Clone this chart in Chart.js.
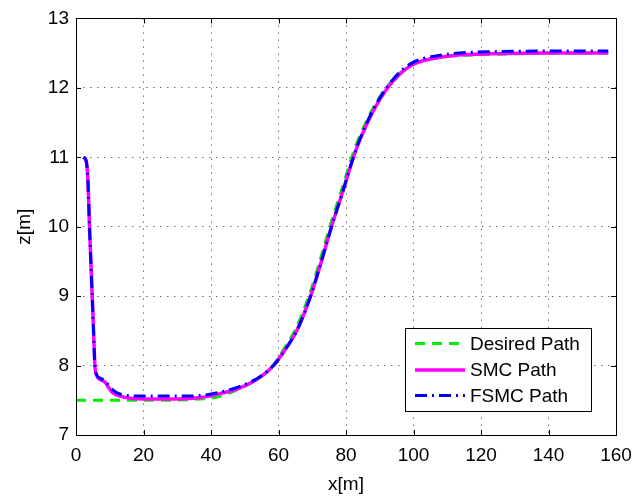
<!DOCTYPE html>
<html>
<head>
<meta charset="utf-8">
<script src="https://cdn.jsdelivr.net/npm/chart.js@4"></script>
<style>
  html, body { margin: 0; padding: 0; background: #fff; }
  #wrap { width: 644px; height: 498px; }
</style>
</head>
<body>
<div id="wrap"><canvas id="c" width="644" height="498"></canvas></div>
<script>
// values
const desiredX = [0, 20, 40, 48.6, 54.5, 58.3, 62, 65, 69, 72.2, 75.2, 78.5, 81.7, 83.6, 87.6, 91.6, 95.6, 100, 108, 116, 130, 157.7];
const desiredZ = [7.5, 7.5, 7.53, 7.67, 7.83, 8.0, 8.27, 8.52, 9.0, 9.5, 10.0, 10.5, 11.0, 11.25, 11.67, 11.98, 12.2, 12.34, 12.44, 12.47, 12.49, 12.5];

const smcX = [2.2, 3.0, 3.5, 4.0, 4.4, 4.8, 5.2, 5.6, 6.2, 7.1, 8.6, 10.6, 13, 20, 30, 37, 43, 48.6, 54.5, 58.5, 62.4, 65.4, 69.5, 72.7, 75.7, 79, 82.2, 84.1, 88.1, 92, 96, 100, 108, 116, 123, 140, 157.7];
const smcZ = [11.0, 10.95, 10.7, 10.0, 9.5, 9.0, 8.5, 8.0, 7.85, 7.8, 7.76, 7.62, 7.56, 7.52, 7.52, 7.54, 7.6, 7.68, 7.83, 8.0, 8.26, 8.5, 9.0, 9.5, 10.0, 10.5, 11.0, 11.25, 11.67, 11.98, 12.2, 12.34, 12.44, 12.48, 12.49, 12.5, 12.5];

const fsmcX = [2.2, 3.0, 3.5, 4.0, 4.4, 4.8, 5.2, 5.6, 6.2, 7.1, 8.6, 10.6, 13, 20, 30, 37, 43, 48.6, 54.5, 58.5, 62.4, 65.4, 69.5, 72.7, 75.7, 79, 82.2, 84.1, 88.1, 92, 96, 100, 108, 116, 123, 140, 157.7];
const fsmcZ = [11.0, 10.95, 10.7, 10.0, 9.5, 9.0, 8.5, 8.0, 7.86, 7.82, 7.78, 7.66, 7.59, 7.56, 7.56, 7.57, 7.62, 7.7, 7.84, 8.0, 8.26, 8.5, 9.0, 9.5, 10.0, 10.5, 11.0, 11.26, 11.69, 12.0, 12.23, 12.37, 12.47, 12.51, 12.52, 12.53, 12.53];

const seriesNames = ["Desired Path", "SMC Path", "FSMC Path"];
const xTicks = [0, 20, 40, 60, 80, 100, 120, 140, 160];
const zTicks = [7, 8, 9, 10, 11, 12, 13];

const FONT = "'Liberation Sans', Arial, Helvetica, sans-serif";
const pts = (xs, ys) => xs.map((x, i) => ({x: x, y: ys[i]}));

// box round the axes, inner ticks on all four sides
const axesBox = {
    id: "axesBox",
    afterDatasetsDraw(chart) {
        const {ctx, chartArea: a, scales} = chart;
        ctx.save();
        ctx.strokeStyle = "#000";
        ctx.lineWidth = 1;
        ctx.setLineDash([]);
        ctx.beginPath();
        xTicks.forEach((v) => {
            const px = Math.round(scales.x.getPixelForValue(v)) + 0.5;
            ctx.moveTo(px, a.bottom); ctx.lineTo(px, a.bottom - 5);
            ctx.moveTo(px, a.top); ctx.lineTo(px, a.top + 5);
        });
        zTicks.forEach((v) => {
            const py = Math.round(scales.y.getPixelForValue(v)) + 0.5;
            ctx.moveTo(a.left, py); ctx.lineTo(a.left + 5, py);
            ctx.moveTo(a.right, py); ctx.lineTo(a.right - 5, py);
        });
        ctx.stroke();
        ctx.strokeRect(Math.round(a.left) + 0.5, Math.round(a.top) + 0.5,
            Math.round(a.right - a.left), Math.round(a.bottom - a.top));
        ctx.restore();
    },
};

// matlab style legend box
const boxLegend = {
    id: "boxLegend",
    afterDraw(chart) {
        const ctx = chart.ctx;
        const bx = 405.5, by = 328.5, bw = 186, bh = 83;
        ctx.save();
        ctx.fillStyle = "#fff";
        ctx.fillRect(bx, by, bw, bh);
        ctx.strokeStyle = "#000";
        ctx.lineWidth = 1;
        ctx.setLineDash([]);
        ctx.strokeRect(bx, by, bw, bh);
        const rows = [343.5, 370, 395.5];
        chart.data.datasets.forEach((ds, i) => {
            const y = rows[i];
            ctx.strokeStyle = ds.borderColor;
            ctx.lineWidth = ds.borderWidth;
            ctx.setLineDash(ds.borderDash || []);
            ctx.beginPath();
            ctx.moveTo(415, y);
            ctx.lineTo(465, y);
            ctx.stroke();
            ctx.setLineDash([]);
            ctx.fillStyle = "#000";
            ctx.font = "19px " + FONT;
            ctx.textBaseline = "middle";
            ctx.textAlign = "left";
            ctx.fillText(ds.label, 470, y + 1);
        });
        ctx.restore();
    },
};

const grid = {
    color: "rgba(0,0,0,0.55)",
    lineWidth: 1,
    drawTicks: false,
    tickLength: 0,
};

new Chart(document.getElementById("c"), {
    type: "line",
    data: {
        datasets: [
            {
                label: seriesNames[0],
                data: pts(desiredX, desiredZ),
                borderColor: "#00ee00",
                borderWidth: 3,
                borderDash: [10, 7],
                order: 3,
            },
            {
                label: seriesNames[1],
                data: pts(smcX, smcZ),
                borderColor: "#ff00ff",
                borderWidth: 3.5,
                order: 2,
            },
            {
                label: seriesNames[2],
                data: pts(fsmcX, fsmcZ),
                borderColor: "#0000ff",
                borderWidth: 3,
                borderDash: [12, 5, 2, 5],
                order: 1,
            },
        ],
    },
    options: {
        responsive: false,
        animation: false,
        events: [],
        elements: {
            point: {radius: 0},
            line: {cubicInterpolationMode: "monotone", fill: false},
        },
        layout: {padding: {left: 0, right: 28, top: 15, bottom: 0}},
        plugins: {legend: {display: false}, tooltip: {enabled: false}},
        scales: {
            x: {
                type: "linear",
                min: 0,
                max: 160,
                afterFit: (s) => { s.height = 63; },
                afterBuildTicks: (s) => { s.ticks = xTicks.map((v) => ({value: v})); },
                ticks: {color: "#000", padding: 9, font: {family: FONT, size: 19}, maxRotation: 0},
                grid: {...grid},
                border: {display: false, dash: [1.5, 5.5]},
                title: {
                    display: true,
                    text: "x[m]",
                    color: "#000",
                    font: {family: FONT, size: 19},
                    padding: {top: 0, bottom: 2},
                },
            },
            y: {
                type: "linear",
                min: 7,
                max: 13,
                afterFit: (s) => { s.width = 76; },
                afterBuildTicks: (s) => { s.ticks = zTicks.map((v) => ({value: v})); },
                ticks: {color: "#000", padding: 7, font: {family: FONT, size: 19}},
                grid: {...grid},
                border: {display: false, dash: [1.5, 5.5]},
                title: {
                    display: true,
                    text: "z[m]",
                    color: "#000",
                    font: {family: FONT, size: 19},
                    padding: {top: 13, bottom: 0},
                },
            },
        },
    },
    plugins: [axesBox, boxLegend],
});
</script>
</body>
</html>
